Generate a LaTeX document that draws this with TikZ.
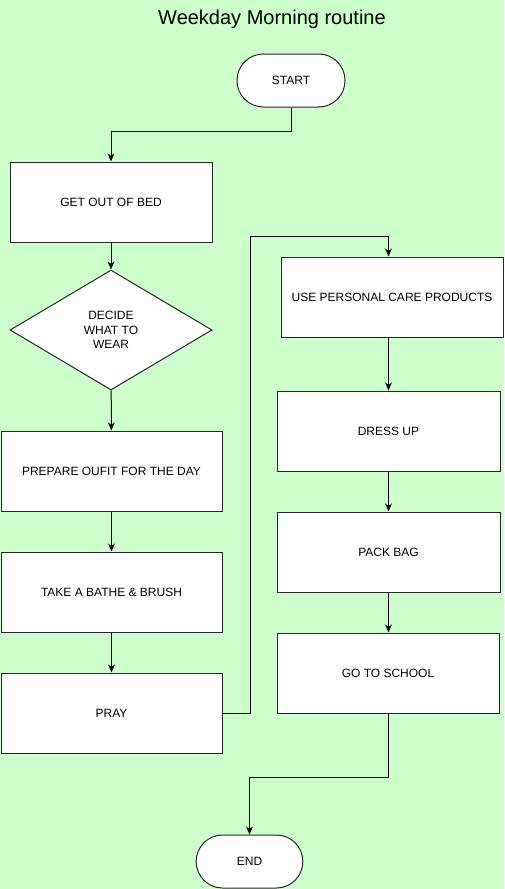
\documentclass[tikz,border=0pt]{standalone}
\usepackage{fontspec}
\setmainfont{Liberation Sans}
\usepackage{xcolor}
\usepackage{tikz}
\usetikzlibrary{shapes.geometric,arrows.meta}
\definecolor{bggreen}{HTML}{CCFFCC}
\tikzset{
	rectnode/.style={rectangle, draw=black!85, fill=white, line width=0.75pt, minimum width=166.5pt, minimum height=60pt, font=\fontsize{9}{11}\selectfont},
	termnode/.style={rectangle, rounded corners=19.8pt, draw=black!85, fill=white, line width=0.75pt, minimum width=81pt, minimum height=39.75pt, font=\fontsize{9}{11}\selectfont},
	diamnode/.style={diamond, draw=black!85, fill=white, line width=0.75pt, minimum width=151.5pt, minimum height=90pt, inner sep=0pt, align=center, font=\fontsize{9}{11}\selectfont},
	arr/.style={-{Stealth[length=6pt,width=5pt,inset=1.8pt]}, line width=0.75pt, draw=black}
}

\begin{document}
\begin{tikzpicture}[x=0.75pt, y=-0.75pt]
		\fill[bggreen] (0,0) rectangle (504,889);
		\useasboundingbox (0,0) rectangle (504,889);
		\node[font=\fontsize{15}{18}\selectfont] at (272,19) (title) {Weekday Morning routine};
		\node[termnode] at (291,80.5) (start) {START};
		\node[rectnode, minimum width=151.5pt] at (111,202) (bed) {GET OUT OF BED};
		\node[diamnode] at (111,330) (decide) {DECIDE\\WHAT TO\\WEAR};
		\node[rectnode, minimum width=165.75pt] at (111.5,471) (outfit) {PREPARE OUFIT FOR THE DAY};
		\node[rectnode, minimum width=165.75pt] at (111.5,592) (bathe) {TAKE A BATHE \& BRUSH};
		\node[rectnode, minimum width=165.75pt] at (111.5,713) (pray) {PRAY};
		\node[rectnode] at (392,297) (care) {USE PERSONAL CARE PRODUCTS};
		\node[rectnode, minimum width=167.25pt] at (388.5,431) (dress) {DRESS UP};
		\node[rectnode, minimum width=167.25pt] at (388.5,552) (pack) {PACK BAG};
		\node[rectnode, minimum width=166.5pt] at (388,673) (school) {GO TO SCHOOL};
		\node[termnode, minimum width=80pt] at (249.5,861.5) (stop) {END};
		\coordinate (jump) at (250,236);
		%Lines
		\draw[arr] (start.south) -- ++(0,24) -| (bed.north);
		\draw[arr] (bed) -- (decide);
		\draw[arr] (decide) -- (outfit);
		\draw[arr] (outfit) -- (bathe);
		\draw[arr] (bathe) -- (pray);
		\draw[arr] (pray.east) -| (jump) -| (care.north -| dress.north);
		\draw[arr] (care.south -| dress.north) -- (dress);
		\draw[arr] (dress) -- (pack);
		\draw[arr] (pack) -- (school.north -| pack.south);
		\draw[arr] (school.south) -- ++(0,64) -| (stop.north);
	\end{tikzpicture}
\end{document}
